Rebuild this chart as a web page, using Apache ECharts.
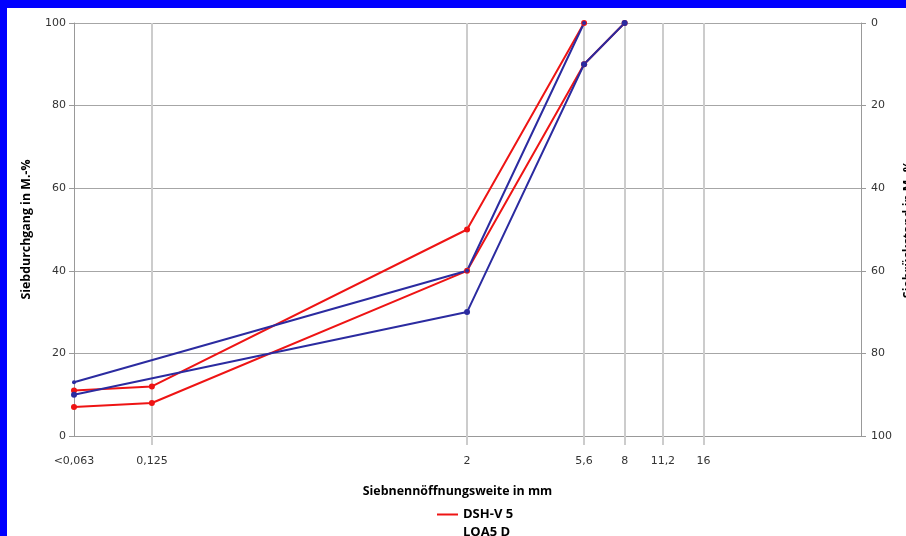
<!DOCTYPE html>
<html>
<head>
<meta charset="utf-8">
<script src="https://cdn.jsdelivr.net/npm/echarts@6/dist/echarts.min.js"></script>
<style>
  html, body { margin: 0; padding: 0; background: #0000ff; width: 906px; height: 536px; overflow: hidden; }
  #main { position: absolute; left: 7px; top: 8px; width: 899px; height: 528px; background: #fff; }
</style>
</head>
<body>
<div id="main"></div>
<script>
// sieve sizes (mm) and their labels
var sieveTicks = [0.063, 0.125, 2, 5.6, 8, 11.2, 16];
var sieveLabels = ['<0,063', '0,125', '2', '5,6', '8', '11,2', '16'];
var gridSieves = [0.125, 2, 5.6, 8, 11.2, 16];

// passing percentages [sieve, %]
var dshUpper = [[0.063, 11], [0.125, 12], [2, 50], [5.6, 100]];
var dshLower = [[0.063, 7], [0.125, 8], [2, 40], [5.6, 90], [8, 100]];
var loaUpper = [[0.063, 13], [2, 40], [5.6, 100]];
var loaLower = [[0.063, 10], [2, 30], [5.6, 90], [8, 100]];

var red = '#ee1414';
var blue = '#2b2ba0';

var chart = echarts.init(document.getElementById('main'));

function line(name, data, color, size) {
    return {
        name: name,
        type: 'line',
        data: data,
        symbol: 'circle',
        symbolSize: size,
        itemStyle: { color: color },
        lineStyle: { color: color, width: 2 },
        silent: true
    };
}

var nameText = { fontFamily: 'Open Sans', fontWeight: 'bold', fontSize: 12.4, color: '#000' };
var legendText = { fontFamily: 'Open Sans', fontWeight: 'bold', fontSize: 13, color: '#000' };

chart.setOption({
    animation: false,
    grid: { left: 67, right: 45, top: 15, bottom: 100, outerBoundsMode: 'none' },
    legend: [{
        left: 425,
        top: 495,
        itemWidth: 21,
        itemHeight: 2,
        icon: 'rect',
        textStyle: legendText,
        data: ['DSH-V 5']
    }, {
        left: 425,
        top: 513,
        itemWidth: 21,
        itemHeight: 2,
        icon: 'rect',
        textStyle: legendText,
        data: [{ name: 'LOA5 D', itemStyle: { opacity: 0 } }]
    }],
    xAxis: {
        type: 'log',
        logBase: 2,
        min: 0.063,
        max: 64,
        name: 'Siebnennöffnungsweite in mm',
        nameLocation: 'middle',
        nameGap: 49,
        nameTextStyle: Object.assign({ padding: [0, 20, 0, 0] }, nameText),
        axisLine: { lineStyle: { color: '#999', width: 1 } },
        axisTick: { show: true, length: 9, customValues: gridSieves, lineStyle: { color: '#ccc', width: 2 } },
        splitLine: { show: true, lineStyle: { color: '#ccc', width: 2 } },
        axisLabel: {
            customValues: sieveTicks,
            margin: 20,
            fontFamily: 'DejaVu Sans',
            fontSize: 11,
            color: '#333',
            formatter: function (v) {
                for (var i = 0; i < sieveTicks.length; i++) {
                    if (Math.abs(sieveTicks[i] - v) < 1e-6) return sieveLabels[i];
                }
                return '';
            }
        }
    },
    yAxis: [{
        type: 'value',
        min: 0,
        max: 100,
        interval: 20,
        name: 'Siebdurchgang in M.-%',
        nameLocation: 'middle',
        nameGap: 42,
        nameTextStyle: nameText,
        axisLine: { show: true, lineStyle: { color: '#999' } },
        axisTick: { show: true, length: 5, lineStyle: { color: '#999' } },
        axisLabel: { fontFamily: 'DejaVu Sans', fontSize: 11, color: '#333', margin: 8 },
        splitLine: { lineStyle: { color: '#a6a6a6', width: 1 } }
    }, {
        type: 'value',
        position: 'right',
        inverse: true,
        min: 0,
        max: 100,
        interval: 20,
        name: 'Siebrückstand in M.-%',
        nameLocation: 'middle',
        nameGap: 41,
        nameRotate: 90,
        nameTextStyle: nameText,
        axisLine: { show: true, lineStyle: { color: '#999' } },
        axisTick: { show: true, length: 5, lineStyle: { color: '#999' } },
        axisLabel: { fontFamily: 'DejaVu Sans', fontSize: 11, color: '#333', margin: 10 },
        splitLine: { show: false }
    }],
    series: [
        line('DSH-V 5', dshUpper, red, 6),
        line('DSH-V 5', dshLower, red, 6),
        line('LOA5 D', loaUpper, blue, 4),
        line('LOA5 D', loaLower, blue, 6)
    ]
});
</script>
</body>
</html>
